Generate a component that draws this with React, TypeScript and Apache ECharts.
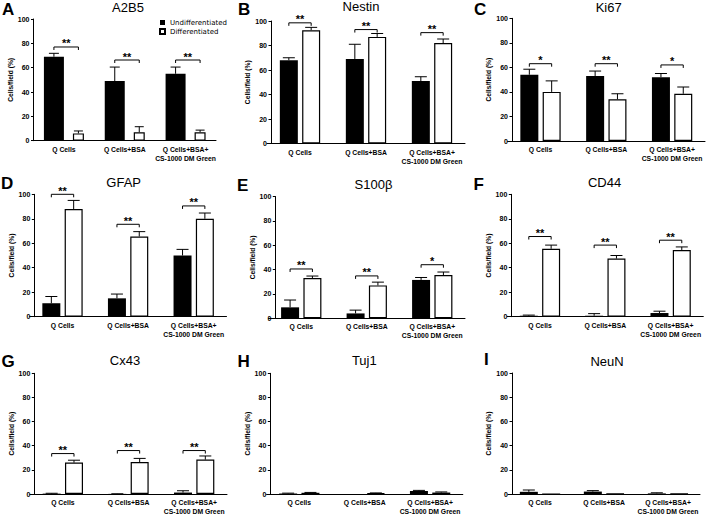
import React, { useEffect, useRef } from 'react';
import * as echarts from 'echarts';

const categories = ['Q Cells', 'Q Cells+BSA', 'Q Cells+BSA+\nCS-1000 DM Green'];
const seriesNames = ['Undifferentiated', 'Differentiated'];
const yMin = 0;
const yMax = 100;
const yInterval = 20;
const yAxisName = 'Cells/field (%)';

const panelLetters = ['A', 'B', 'C', 'D', 'E', 'F', 'G', 'H', 'I'];
const panelTitles = ['A2B5', 'Nestin', 'Ki67', 'GFAP', 'S100β', 'CD44', 'Cx43', 'Tuj1', 'NeuN'];

const undifferentiatedMean = [
  [69, 49, 55], [68, 69, 51], [54, 53, 52],
  [11, 15, 50], [9, 4, 31.5], [0.8, 0.8, 3],
  [0.3, 0.1, 1.2], [0.4, 0, 2.5], [1.8, 2, 0.5],
];
const undifferentiatedSem = [
  [2.8, 11.5, 5.5], [2, 12, 3.5], [4.5, 4, 3],
  [5.5, 3.5, 5], [6, 2.7, 2], [0.5, 1.7, 1.5],
  [0.3, 0.1, 1.5], [0.3, 0, 0.5], [1.5, 0.8, 0.5],
];
const differentiatedMean = [
  [6, 7, 7], [92.5, 87, 82], [40, 34, 38.5],
  [88, 65.5, 80], [33, 27, 35.5], [55.5, 47.5, 54.5],
  [26, 26.5, 28.5], [1, 0.6, 1.2], [0, 0.2, 0.2],
];
const differentiatedSem = [
  [2, 4.5, 1.7], [2.3, 2.8, 3.3], [9, 4.5, 5.5],
  [7, 4, 4.7], [1.7, 2.7, 2.5], [3, 2.5, 2.5],
  [2, 3, 3], [0.3, 0.3, 0.5], [0, 0, 0],
];
const bracketLevels = [
  [77, 66.3, 66.3], [98.5, 93, 90.5], [63, 63, 62],
  [100, 75.5, 90.5], [40.5, 34.8, 44], [65.5, 58.5, 62.5],
  [33.5, 36, 36], [], [],
];
const bracketStars = [
  ['**', '**', '**'], ['**', '**', '**'], ['*', '**', '*'],
  ['**', '**', '**'], ['**', '**', '*'], ['**', '**', '**'],
  ['**', '**', '**'], [], [],
];

// layout (positions / sizes only)
const LAYOUT = [
  { bandL: 33.5, bandR: 216, top: 19, bottom: 140.7, axisX: 33.5, tx: 128, ty: 7.7, lx: 2, ly: 9.5, wB: 20, wW: 11, gap: 0.45, capB: 5, capW: 4.5 },
  { bandL: 267, bandR: 465, top: 21, bottom: 143.5, axisX: 271, tx: 361, ty: 6.8, lx: 238, ly: 9.5, wB: 18, wW: 18, gap: 0.24, capB: 6, capW: 6 },
  { bandL: 507.6, bandR: 705, top: 18.3, bottom: 141, axisX: 512, tx: 608.7, ty: 7, lx: 474, ly: 9.5, wB: 18, wW: 18, gap: 0.24, capB: 6, capW: 6 },
  { bandL: 29.7, bandR: 226.5, top: 194.3, bottom: 316.7, axisX: 34.3, tx: 123.7, ty: 182.5, lx: 1, ly: 183, wB: 18, wW: 18, gap: 0.24, capB: 6, capW: 6 },
  { bandL: 268.5, bandR: 465, top: 196.5, bottom: 318.3, axisX: 275.3, tx: 373.5, ty: 184, lx: 237, ly: 185, wB: 18, wW: 18, gap: 0.24, capB: 6, capW: 6 },
  { bandL: 507.3, bandR: 703.3, top: 194.3, bottom: 316.7, axisX: 511.3, tx: 604.5, ty: 182.5, lx: 473.5, ly: 184, wB: 18, wW: 18, gap: 0.24, capB: 6, capW: 6 },
  { bandL: 30, bandR: 227, top: 373.3, bottom: 495, axisX: 34.3, tx: 125, ty: 360, lx: 1.5, ly: 361, wB: 18, wW: 18, gap: 0.24, capB: 6, capW: 6 },
  { bandL: 266.6, bandR: 462.8, top: 373.3, bottom: 495, axisX: 270.3, tx: 364.3, ty: 360.5, lx: 237.5, ly: 361, wB: 18, wW: 18, gap: 0.24, capB: 6, capW: 6 },
  { bandL: 508, bandR: 700, top: 373, bottom: 496, axisX: 512, tx: 607, ty: 361.7, lx: 484, ly: 359, wB: 18, wW: 18, gap: 0.24, capB: 6, capW: 6 },
];

const LABEL_FONT = 'Liberation Sans';
const TITLE_FONT = 'Liberation Sans';
const LEGEND_FONT = 'DejaVu Sans';

function barOffsets(L: any): number[] {
  const sum = L.wB * (1 + L.gap) + L.wW;
  return [-sum / 2 + L.wB / 2, -sum / 2 + L.wB * (1 + L.gap) + L.wW / 2];
}

export default function App() {
  const ref = useRef<HTMLDivElement>(null);
  useEffect(() => {
    const chart = echarts.init(ref.current!, null, { renderer: 'svg' });
    const grid: any[] = [];
    const xAxis: any[] = [];
    const yAxis: any[] = [];
    const series: any[] = [];
    const graphic: any[] = [];

    LAYOUT.forEach((L, i) => {
      const off = barOffsets(L);
      grid.push({ left: L.bandL, top: L.top, width: L.bandR - L.bandL, height: L.bottom - L.top, containLabel: false });
      xAxis.push({
        type: 'category', gridIndex: i, data: categories,
        axisLine: { show: true, lineStyle: { color: '#000', width: 1 } },
        axisTick: { show: false },
        axisLabel: { interval: 0, fontSize: 6.8, fontWeight: 'bold', fontFamily: LABEL_FONT, color: '#000', lineHeight: 9, margin: 4 },
      });
      yAxis.push({
        type: 'value', gridIndex: i, min: yMin, max: yMax, interval: yInterval,
        offset: -(L.axisX - L.bandL),
        splitLine: { show: false },
        axisLine: { show: true, lineStyle: { color: '#000', width: 1 } },
        axisTick: { show: true, length: 2.5, lineStyle: { color: '#000', width: 1 } },
        axisLabel: { fontSize: 7, fontWeight: 'bold', fontFamily: LABEL_FONT, color: '#000', margin: 4 },
        name: yAxisName, nameLocation: 'middle', nameGap: 15, nameRotate: 90,
        nameTextStyle: { fontSize: 6.7, fontWeight: 'bold', fontFamily: LABEL_FONT, color: '#000' },
      });
      series.push({
        type: 'bar', name: seriesNames[0], xAxisIndex: i, yAxisIndex: i,
        data: undifferentiatedMean[i], barWidth: L.wB, barGap: `${L.gap * 100}%`,
        itemStyle: { color: '#000' },
      });
      series.push({
        type: 'bar', name: seriesNames[1], xAxisIndex: i, yAxisIndex: i,
        data: differentiatedMean[i], barWidth: L.wW, barGap: `${L.gap * 100}%`,
        itemStyle: { color: '#fff', borderColor: '#000', borderWidth: 1.2 },
      });
      const errData: number[][] = [];
      categories.forEach((_, c) => {
        errData.push([c, undifferentiatedMean[i][c], undifferentiatedMean[i][c] + undifferentiatedSem[i][c], 0]);
        errData.push([c, differentiatedMean[i][c], differentiatedMean[i][c] + differentiatedSem[i][c], 1]);
      });
      series.push({
        type: 'custom', name: `err${i}`, xAxisIndex: i, yAxisIndex: i, z: 5,
        data: errData,
        encode: { x: 0, y: [1, 2] },
        renderItem: (params: any, api: any) => {
          const cat = api.value(0), mean = api.value(1), top = api.value(2), side = api.value(3);
          if (!(top > mean)) return null;
          const b = api.coord([cat, mean]);
          const t = api.coord([cat, top]);
          const x = b[0] + off[side];
          const ch = side ? L.capW : L.capB;
          return {
            type: 'group',
            children: [
              { type: 'line', shape: { x1: x, y1: b[1], x2: x, y2: t[1] }, style: { stroke: '#000', lineWidth: 1 } },
              { type: 'line', shape: { x1: x - ch, y1: t[1], x2: x + ch, y2: t[1] }, style: { stroke: '#000', lineWidth: 1 } },
            ],
          };
        },
      });
      if (bracketLevels[i].length) {
        series.push({
          type: 'custom', name: `sig${i}`, xAxisIndex: i, yAxisIndex: i, z: 6,
          data: bracketLevels[i].map((v, c) => [c, v]),
          encode: { x: 0, y: 1 },
          renderItem: (params: any, api: any) => {
            const p = api.coord([api.value(0), api.value(1)]);
            const xb = p[0] + off[0];
            const xw = p[0] + off[1];
            const y = p[1];
            return {
              type: 'group',
              children: [
                { type: 'polyline', shape: { points: [[xb, y + 3], [xb, y], [xw, y], [xw, y + 3]] }, style: { stroke: '#000', lineWidth: 1, fill: 'none' } },
                {
                  type: 'text',
                  style: {
                    text: bracketStars[i][params.dataIndex], x: (xb + xw) / 2, y: y - 3.5,
                    align: 'center', verticalAlign: 'middle', textAlign: 'center', textVerticalAlign: 'middle',
                    fontSize: 11, fontWeight: 'bold', fontFamily: LABEL_FONT, fill: '#000',
                  },
                },
              ],
            };
          },
        });
      }
      graphic.push({
        type: 'text', x: L.tx, y: L.ty,
        style: { text: panelTitles[i], fontSize: 13, fontFamily: TITLE_FONT, fill: '#000', textAlign: 'center', textVerticalAlign: 'middle' },
      });
      graphic.push({
        type: 'text', x: L.lx, y: L.ly,
        style: { text: panelLetters[i], fontSize: 17, fontWeight: 'bold', fontFamily: LABEL_FONT, fill: '#000', textAlign: 'left', textVerticalAlign: 'middle' },
      });
    });

    chart.setOption({
      animation: false,
      backgroundColor: '#fff',
      grid, xAxis, yAxis, series, graphic,
      legend: {
        data: seriesNames, left: 154, top: 14, orient: 'vertical',
        itemWidth: 5, itemHeight: 5, itemGap: 2, icon: 'rect', selectedMode: false,
        textStyle: { fontSize: 7, fontFamily: LEGEND_FONT, color: '#000' },
      },
    });
    return () => chart.dispose();
  }, []);
  return <div ref={ref} style={{ position: 'fixed', left: 0, top: 0, width: 709, height: 516, background: '#fff' }} />;
}
